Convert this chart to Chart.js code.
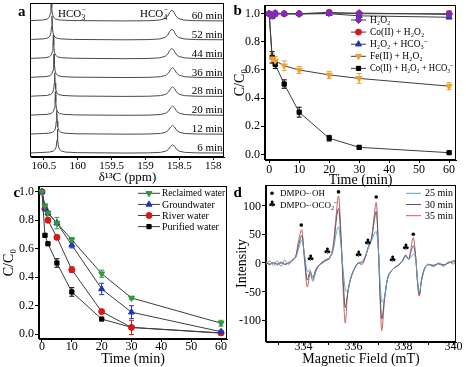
<!DOCTYPE html>
<html>
<head>
<meta charset="utf-8">
<title>Figure</title>
<script src="https://cdn.jsdelivr.net/npm/chart.js@4.4.1/dist/chart.umd.min.js"></script>
<style>
  html, body { margin: 0; padding: 0; background: #fff; }
  #fig { position: relative; width: 466px; height: 367px; overflow: hidden; background: #fff; }
  #fig canvas { position: absolute; }
  .ytick { position: absolute; width: 30px; text-align: right; color: #000; z-index: 10;
           font: 12px 'Liberation Serif', 'Times New Roman', serif; line-height: 14px; }
</style>
</head>
<body>
<div id="fig">
  <canvas id="chart-a" width="233" height="190" style="left:0;top:0"></canvas>
  <canvas id="chart-b" width="233" height="190" style="left:233px;top:0"></canvas>
  <canvas id="chart-c" width="233" height="187" style="left:0;top:180px"></canvas>
  <canvas id="chart-d" width="233" height="187" style="left:233px;top:180px"></canvas>
</div>
<script>
/* ---------- (a) 13C NMR, one trace per reaction time ---------- */
const nmrTimes   = ['6 min', '12 min', '20 min', '28 min', '36 min', '44 min', '52 min', '60 min'];
const nmrTicks   = [158, 158.5, 159, 159.5, 160, 160.5];
const hco3Ppm    = [160.30, 160.31, 160.33, 160.34, 160.35, 160.36, 160.38, 160.39];
const hco4Ppm    = [158.60, 158.60, 158.60, 158.60, 158.60, 158.61, 158.61, 158.61];
const hco4Height = [0.44, 0.47, 0.49, 0.51, 0.53, 0.55, 0.57, 0.58];
// line shapes: offset from line centre (ppm, high -> low) and intensity
const hco3Dx     = [0.30, 0.12, 0.06, 0.03, 0.015, 0.006, 0, -0.006, -0.015, -0.03, -0.06, -0.12, -0.30];
const hco3Y      = [0.02, 0.05, 0.10, 0.20, 0.38, 0.70, 1.25, 0.70, 0.38, 0.20, 0.10, 0.05, 0.02];
const hco4Dx     = [0.35, 0.18, 0.10, 0.06, 0.03, 0, -0.03, -0.06, -0.10, -0.18, -0.35];
const hco4Shape  = [0.02, 0.08, 0.22, 0.45, 0.8, 1, 0.8, 0.45, 0.22, 0.08, 0.02];

/* ---------- (b), (c) degradation kinetics ---------- */
const timeMin    = [0, 1, 2, 5, 10, 20, 30, 60];
const timeTicks  = [0, 10, 20, 30, 40, 50, 60];
const ratioTicks = [0, 0.2, 0.4, 0.6, 0.8, 1.0];

const bH2O2        = [1.0, 0.985, 1.0, 1.0, 0.998, 1.003, 1.005, 0.995];
const bH2O2Err     = [0, 0.01, 0.02, 0.005, 0.008, 0.015, 0.01, 0.01];
const bCoH2O2      = [1.0, 0.99, 1.0, 1.0, 1.0, 1.01, 1.0, 1.0];
const bCoH2O2Err   = [0, 0.01, 0, 0, 0, 0.01, 0, 0.02];
const bH2O2Hco3    = [1.0, 0.98, 1.005, 1.0, 1.0, 1.0, 0.985, 0.975];
const bH2O2Hco3Err = [0, 0.015, 0, 0, 0, 0, 0, 0.01];
const bFeH2O2      = [1.0, 0.68, 0.665, 0.63, 0.60, 0.565, 0.54, 0.485];
const bFeH2O2Err   = [0, 0.035, 0.03, 0.035, 0.025, 0.025, 0.035, 0.025];
const bCoAll       = [1.0, 0.69, 0.64, 0.50, 0.30, 0.115, 0.05, 0.012];
const bCoAllErr    = [0, 0.04, 0.03, 0.03, 0.035, 0.02, 0.012, 0.005];

const cReclaimed    = [1.0, 0.90, 0.85, 0.78, 0.663, 0.425, 0.255, 0.078];
const cReclaimedErr = [0, 0.015, 0.015, 0.04, 0.015, 0.025, 0.01, 0.02];
const cGround       = [1.0, 0.885, 0.85, 0.78, 0.626, 0.318, 0.155, 0.018];
const cGroundErr    = [0, 0.02, 0.01, 0.01, 0.02, 0.04, 0.045, 0.01];
const cRiver        = [1.0, 0.88, 0.80, 0.68, 0.453, 0.159, 0.048, 0.01];
const cRiverErr     = [0, 0.01, 0.015, 0.015, 0.02, 0.015, 0.05, 0.01];
const cPurified     = [1.0, 0.694, 0.635, 0.50, 0.297, 0.107, 0.048, 0.008];
const cPurifiedErr  = [0, 0.01, 0.01, 0.03, 0.03, 0.008, 0.01, 0.005];

/* ---------- (d) EPR spectra ---------- */
const eprTicks  = [333, 334, 335, 336, 337, 338, 339, 340];
const eprYTicks = [-100, -50, 0, 50, 100];
const eprField = [
  332.5, 332.65, 332.8, 332.95, 333.1, 333.25, 333.4, 333.55, 333.7, 333.8,
  333.93, 334.04, 334.15, 334.26, 334.37, 334.5, 334.7, 334.9, 335.05, 335.2,
  335.3, 335.4, 335.5, 335.6, 335.67, 335.76, 335.87, 336.05, 336.2, 336.33,
  336.47, 336.6, 336.73, 336.82, 336.91, 337.0, 337.07, 337.13, 337.24, 337.35,
  337.55, 337.75, 337.95, 338.09, 338.2, 338.29, 338.39, 338.49, 338.56, 338.63,
  338.72, 338.85, 339.0, 339.2, 339.4, 339.6, 339.8, 340.0, 340.1
];
const epr25 = [
  -3, 4, -5, 4, -6, 5, -3, 6, 10, 25,
  40, 15, -15, -12, -32, -15, 0, 6, 10, 25,
  50, 63, 30, -20, -45, -50, -30, -10, 0, 2,
  12, 28, 40, 50, 55, 20, -40, -68, -60, -30,
  -12, -6, 2, 12, 6, 10, 15, 5, -30, -52,
  -32, -10, -2, -7, 0, -6, 2, -2, 5
];
const epr30 = [
  0, -2, 0, -2, 0, -2, 0, 4, 12, 30,
  48, 10, -30, -15, -25, -12, -1, 5, 9, 28,
  70, 95, 40, -40, -78, -55, -30, -9, 0, 0,
  10, 28, 44, 70, 90, 20, -60, -98, -62, -30,
  -12, -5, 3, 13, 6, 18, 30, 8, -32, -55,
  -30, -9, -3, -4, -1, -3, 0, 2, 4
];
const epr35 = [
  2, -3, 1, -4, 2, -3, 0, 5, 14, 38,
  58, 5, -42, -20, -29, -10, -2, 4, 9, 35,
  80, 117, 50, -60, -105, -55, -29, -9, 0, -3,
  9, 29, 46, 80, 106, 20, -70, -118, -64, -29,
  -12, -5, 3, 14, 6, 23, 44, 10, -35, -58,
  -29, -9, -3, -5, -2, -4, 0, 4, 3
];
// peak markers
const ohField  = [333.91, 335.40, 336.91, 338.39];
const ohLevel  = [66, 124, 115, 50];
const co2Field = [334.28, 334.95, 336.20, 336.57, 337.56, 338.09];
const co2Level = [7, 20, 14, 36, 5, 26];

/* ---------- common ---------- */
const FONT = "'Liberation Serif', 'Times New Roman', serif";
Chart.defaults.font.family = FONT;
Chart.defaults.color = '#000';
Chart.defaults.animation = false;
Chart.defaults.plugins.legend.display = false;
Chart.defaults.plugins.tooltip.enabled = false;

function axis(o) {
  return {
    type: 'linear', min: o.min, max: o.max, reverse: !!o.reverse,
    afterBuildTicks: s => { s.ticks = o.ticks.map(v => ({ value: v })); },
    afterFit: s => {
      if (o.height != null) s.height = o.height;
      if (o.width != null) s.width = o.width;
      // keep the plot box where layout.padding puts it
      s.paddingTop = s.paddingBottom = s.paddingLeft = s.paddingRight = 0;
    },
    ticks: { display: o.labels !== false, font: { size: o.tickSize || 12 }, color: '#000', padding: o.tickPad ?? 1,
             autoSkip: false, maxRotation: 0, callback: o.fmt || (v => String(v)) },
    grid: { drawOnChartArea: false, drawTicks: true, tickLength: o.tickLen || 4, color: '#000' },
    border: { display: true, color: '#000' },
    title: { display: !!o.title, text: o.title, color: '#000',
             font: { size: o.titleSize || 14, lineHeight: 1.1 }, padding: o.titlePad || 0 }
  };
}

// box round the plot area + panel letter
function frame(letter, lx, ly) {
  return {
    id: 'frame',
    afterDraw(chart) {
      const { ctx, chartArea: a } = chart;
      ctx.save();
      ctx.strokeStyle = '#000';
      ctx.lineWidth = 1;
      const l = Math.round(a.left) - 0.5, t = Math.round(a.top) + 0.5;
      const r = Math.round(a.right) - 0.5, b = Math.round(a.bottom) - 0.5;
      ctx.strokeRect(l, t, r - l, b - t);
      ctx.fillStyle = '#000';
      ctx.font = `bold 15px ${FONT}`;
      ctx.textAlign = 'left';
      ctx.textBaseline = 'alphabetic';
      ctx.fillText(letter, lx, ly);
      ctx.restore();
    }
  };
}

const errorBars = {
  id: 'errorBars',
  beforeDatasetsDraw(chart) {
    const { ctx, scales: { x, y } } = chart;
    ctx.save();
    ctx.lineWidth = 1;
    chart.data.datasets.forEach(ds => {
      if (!ds.errors) return;
      ctx.strokeStyle = ds.errorColor;
      ds.data.forEach((p, i) => {
        const e = ds.errors[i];
        if (!e) return;
        const px = x.getPixelForValue(p.x);
        const top = y.getPixelForValue(p.y + e), bot = y.getPixelForValue(p.y - e);
        ctx.beginPath();
        ctx.moveTo(px, top); ctx.lineTo(px, bot);
        ctx.moveTo(px - 2.5, top); ctx.lineTo(px + 2.5, top);
        ctx.moveTo(px - 2.5, bot); ctx.lineTo(px + 2.5, bot);
        ctx.stroke();
      });
    });
    ctx.restore();
  }
};

function insetLegend(series, x0, x1, tx, y0, dy, size, maxW) {
  return {
    id: 'insetLegend',
    afterDraw(chart) {
      const ctx = chart.ctx;
      ctx.save();
      series.forEach((s, k) => {
        const y = y0 + k * dy;
        ctx.strokeStyle = s.marker ? '#3c3c3c' : s.color;
        ctx.lineWidth = 1;
        ctx.beginPath(); ctx.moveTo(x0, y); ctx.lineTo(x1, y); ctx.stroke();
        if (s.marker) {
          ctx.fillStyle = s.color; ctx.strokeStyle = s.color;
          Chart.helpers.drawPoint(ctx, { pointStyle: s.marker, radius: s.radius, rotation: s.rotation || 0, borderWidth: 1 }, (x0 + x1) / 2, y);
        }
        ctx.fillStyle = '#000';
        ctx.font = `${size}px ${FONT}`;
        ctx.textAlign = 'left';
        ctx.textBaseline = 'middle';
        if (maxW) ctx.fillText(s.label, tx, y + 0.5, maxW);
        else ctx.fillText(s.label, tx, y + 0.5);
      });
      ctx.restore();
    }
  };
}

function kineticDataset(s) {
  return {
    label: s.label,
    data: timeMin.map((t, i) => ({ x: t, y: s.values[i] })),
    errors: s.errors, errorColor: s.color,
    borderColor: '#3c3c3c', borderWidth: 1, tension: 0,
    pointStyle: s.marker, pointRotation: s.rotation || 0, pointRadius: s.radius,
    pointBackgroundColor: s.color, pointBorderColor: s.color, pointBorderWidth: 1
  };
}

/* ---------- panel d ---------- */
const dSeries = [
  { label: '25 min', values: epr25, color: '#5b9fc2' },
  { label: '30 min', values: epr30, color: '#5d5568' },
  { label: '35 min', values: epr35, color: '#c4615c' }
];

const eprMarks = {
  id: 'eprMarks',
  afterDraw(chart) {
    const { ctx, scales: { x, y } } = chart;
    ctx.save();
    ctx.fillStyle = '#000';
    ohField.forEach((f, i) => {
      ctx.beginPath();
      ctx.arc(x.getPixelForValue(f), y.getPixelForValue(ohLevel[i]), 1.8, 0, 2 * Math.PI);
      ctx.fill();
    });
    ctx.font = "9px 'DejaVu Sans'";
    ctx.textAlign = 'center';
    ctx.textBaseline = 'middle';
    co2Field.forEach((f, i) => ctx.fillText('♣', x.getPixelForValue(f), y.getPixelForValue(co2Level[i])));
    // symbol key, top left
    ctx.beginPath(); ctx.arc(39, 13.3, 1.8, 0, 2 * Math.PI); ctx.fill();
    ctx.fillText('♣', 39, 25);
    ctx.font = `9px ${FONT}`;
    ctx.textAlign = 'left';
    ctx.fillText('DMPO-·OH', 47, 13.8);
    ctx.fillText('DMPO-·OCO₂⁻', 47, 25.5);
    ctx.restore();
  }
};

const chartD = new Chart(document.getElementById('chart-d'), {
  type: 'line',
  data: {
    datasets: dSeries.map(s => ({
      label: s.label,
      data: eprField.map((f, i) => ({ x: f, y: s.values[i] })),
      borderColor: s.color, borderWidth: 1, pointRadius: 0, cubicInterpolationMode: 'monotone'
    }))
  },
  options: {
    responsive: false,
    layout: { padding: { left: 0, right: 10, top: 5, bottom: 0 } },
    scales: {
      x: axis({ min: 332.5, max: 340.1, ticks: eprTicks, height: 25, tickLen: 3, tickPad: -5,
                fmt: v => (v % 2 === 0 ? String(v) : ''), title: 'Magnetic Field (mT)' }),
      y: axis({ min: -138, max: 136, ticks: eprYTicks, width: 33, labels: false,
                title: 'Intensity', titlePad: { top: 2, bottom: 0 } })
    }
  },
  plugins: [eprMarks, frame('d', 0.5, 17.3), insetLegend(dSeries, 173, 188, 192, 13.3, 11.2, 10)]
});

// intensity tick labels as text placed through the chart's y scale
(function () {
  const fig = document.getElementById('fig');
  const cv = document.getElementById('chart-d');
  const ys = chartD.scales.y;
  eprYTicks.forEach(v => {
    const el = document.createElement('div');
    el.className = 'ytick';
    el.textContent = String(v);
    el.style.left = (cv.offsetLeft + ys.right - 5 - 30) + 'px';
    el.style.top = (cv.offsetTop + ys.getPixelForValue(v) - 7) + 'px';
    fig.appendChild(el);
  });
})();

/* ---------- panel a ---------- */
function nmrTrace(i) {
  const pts = [{ x: 160.75, y: 0 }];
  hco3Dx.forEach((d, k) => pts.push({ x: hco3Ppm[i] + d, y: hco3Y[k] }));
  pts.push({ x: 159.3, y: 0 });
  hco4Dx.forEach((d, k) => pts.push({ x: hco4Ppm[i] + d, y: hco4Height[i] * hco4Shape[k] }));
  pts.push({ x: 157.8, y: 0 });
  return pts.map(p => ({ x: p.x, y: p.y + i }));   // stacked offset
}

function drawIon(ctx, base, sub, x, y) {
  ctx.font = `11px ${FONT}`;
  ctx.fillText(base, x, y);
  const w = ctx.measureText(base).width;
  ctx.font = `7.5px ${FONT}`;
  ctx.fillText(sub, x + w + 0.3, y + 2.5);
  ctx.fillText('\u2212', x + w + 0.5, y - 5);
}

const nmrLabels = {
  id: 'nmrLabels',
  afterDraw(chart) {
    const { ctx, chartArea: a, scales: { x, y } } = chart;
    ctx.save();
    ctx.fillStyle = '#000';
    ctx.font = `11px ${FONT}`;
    ctx.textAlign = 'right';
    ctx.textBaseline = 'alphabetic';
    nmrTimes.forEach((t, i) => ctx.fillText(t, a.right - 1.5, y.getPixelForValue(i) - 2));
    ctx.textAlign = 'left';
    drawIon(ctx, 'HCO', '3', x.getPixelForValue(160.29), a.top + 14);
    drawIon(ctx, 'HCO', '4', x.getPixelForValue(159.08), a.top + 14);
    ctx.restore();
  }
};

new Chart(document.getElementById('chart-a'), {
  type: 'line',
  data: {
    datasets: nmrTimes.map((t, i) => ({
      label: t, data: nmrTrace(i), borderColor: '#4a4a4a', borderWidth: 1, pointRadius: 0, tension: 0
    }))
  },
  options: {
    responsive: false,
    layout: { padding: { left: 31, right: 9, top: 3, bottom: 5 } },
    scales: {
      x: axis({ min: 157.84, max: 160.69, reverse: true, ticks: nmrTicks, height: 28,
                tickSize: 11, tickLen: 3, tickPad: 0, title: 'δ¹³C (ppm)', titleSize: 13 }),
      y: { type: 'linear', display: false, min: -0.21, max: 7.95 }
    }
  },
  plugins: [frame('a', 18, 16), nmrLabels]
});

/* ---------- panel b ---------- */
const bSeries = [
  { label: 'H₂O₂',                 values: bH2O2,     errors: bH2O2Err,     color: '#7b2cbf', marker: 'rectRot',  radius: 3.5 },
  { label: 'Co(II) + H₂O₂',        values: bCoH2O2,   errors: bCoH2O2Err,   color: '#d7191c', marker: 'circle',   radius: 3 },
  { label: 'H₂O₂ + HCO₃⁻',         values: bH2O2Hco3, errors: bH2O2Hco3Err, color: '#2233c0', marker: 'triangle', radius: 3.5 },
  { label: 'Fe(II) + H₂O₂',        values: bFeH2O2,   errors: bFeH2O2Err,   color: '#f0a030', marker: 'triangle', radius: 3.5, rotation: 180 },
  { label: 'Co(II) + H₂O₂ + HCO₃⁻', values: bCoAll,    errors: bCoAllErr,    color: '#000000', marker: 'rect',     radius: 3 }
];

new Chart(document.getElementById('chart-b'), {
  type: 'line',
  data: { datasets: bSeries.map(kineticDataset) },
  options: {
    responsive: false,
    layout: { padding: { left: 0, right: 10, top: 3, bottom: 2 } },
    scales: {
      x: axis({ min: -1.4, max: 62.3, ticks: timeTicks, height: 28, tickLen: 3, tickPad: 0, title: 'Time (min)' }),
      y: axis({ min: -0.04, max: 1.062, ticks: ratioTicks, width: 32, fmt: v => v.toFixed(1), title: 'C/C₀' })
    }
  },
  plugins: [errorBars, frame('b', 0.5, 15), insetLegend(bSeries, 118, 133, 137, 20, 12.1, 9.5, 83)]
});

/* ---------- panel c ---------- */
const cSeries = [
  { label: 'Reclaimed water', values: cReclaimed, errors: cReclaimedErr, color: '#2e9b3c', marker: 'triangle', radius: 3.5, rotation: 180 },
  { label: 'Groundwater',     values: cGround,    errors: cGroundErr,    color: '#2233c0', marker: 'triangle', radius: 3.5 },
  { label: 'River water',     values: cRiver,     errors: cRiverErr,     color: '#d7191c', marker: 'circle',   radius: 3 },
  { label: 'Purified water',  values: cPurified,  errors: cPurifiedErr,  color: '#000000', marker: 'rect',     radius: 3 }
];

new Chart(document.getElementById('chart-c'), {
  type: 'line',
  data: { datasets: cSeries.map(kineticDataset) },
  options: {
    responsive: false,
    layout: { padding: { left: 0, right: 6, top: 6, bottom: 0 } },
    scales: {
      x: axis({ min: -1, max: 62, ticks: timeTicks, height: 28, tickLen: 3, tickPad: -2, title: 'Time (min)' }),
      y: axis({ min: -0.033, max: 1.04, ticks: ratioTicks, width: 39, fmt: v => v.toFixed(1),
                title: 'C/C₀', titlePad: { top: 2, bottom: 0 } })
    }
  },
  plugins: [errorBars, frame('c', 13.5, 16.5), insetLegend(cSeries, 138, 160, 162, 13.3, 11.1, 10, 63)]
});
</script>
</body>
</html>
